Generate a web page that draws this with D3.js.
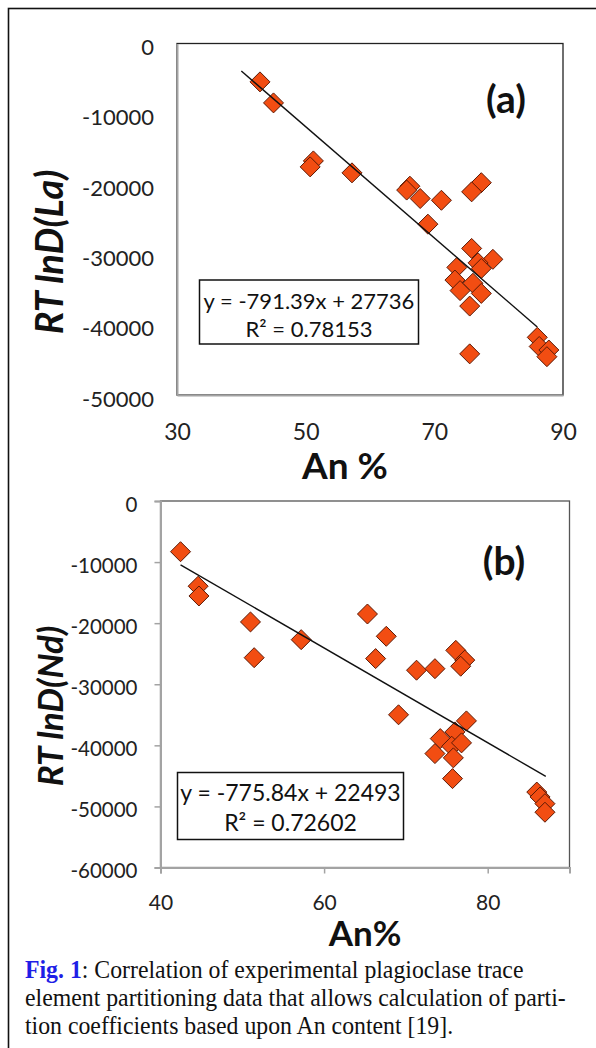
<!DOCTYPE html>
<html>
<head>
<meta charset="utf-8">
<script src="https://cdn.jsdelivr.net/npm/d3@7"></script>
<style>
  html, body { margin: 0; padding: 0; background: #fff; }
  svg { display: block; }
  .tick text { font-family: Lato, "Open Sans", sans-serif; fill: #222; }
</style>
</head>
<body>
<div id="chart"></div>
<script>
// An% vs RT lnD for La (panel a) and Nd (panel b)

const anLa = [42.9, 45.0, 51.2, 50.7, 57.2, 66.2, 65.7, 67.8, 71.1, 77.3, 75.8, 69.0, 75.8, 79.1,
              76.8, 77.3, 73.5, 73.2, 74.0, 76.0, 77.3, 75.5, 75.5, 86.0, 86.3, 87.8, 87.5];
const rtLa = [-5460, -8450, -16700, -17550, -18400, -20300, -20850, -22050, -22300, -19800, -21100,
              -25700, -29150, -30700, -31200, -32000, -31850, -33650, -35150, -34100, -35550,
              -37350, -44150, -41800, -43100, -43600, -44550];

const anNd = [42.45, 44.6, 44.7, 51.0, 51.45, 57.2, 65.3, 67.6, 66.3, 71.3, 73.55, 76.1, 77.2, 76.7,
              69.1, 77.4, 76.0, 74.2, 75.6, 76.8, 73.55, 75.8, 75.7, 86.0, 86.4, 87.0, 87.0];
const rtNd = [-8300, -13950, -15550, -19800, -25650, -22700, -18500, -22150, -25800, -27700, -27450,
              -24450, -26050, -27050, -35000, -36000, -37800, -38900, -40150, -39600, -41350,
              -42050, -45450, -47650, -48450, -49550, -50950];

// trendlines: slope, intercept, x extent
const fitLa = { slope: -791.39, intercept: 27736, r2: "0.78153", from: 40, to: 86 };
const fitNd = { slope: -775.84, intercept: 22493, r2: "0.72602", from: 42.45, to: 87.1 };

const ticksXLa = [30, 50, 70, 90];
const ticksYLa = [0, -10000, -20000, -30000, -40000, -50000];
const ticksXNd = [40, 60, 80];
const ticksYNd = [0, -10000, -20000, -30000, -40000, -50000, -60000];

const W = 596, H = 1048;

const svg = d3.select("#chart").append("svg")
    .attr("width", W)
    .attr("height", H);

// outer frame, open on the right and bottom edges of the page
svg.append("rect")
    .attr("x", 8.5).attr("y", 8.5)
    .attr("width", W + 20).attr("height", H + 20)
    .attr("fill", "none")
    .attr("stroke", "#111")
    .attr("stroke-width", 1.6);

function fmtEq(f) {
    return "y = " + f.slope + "x + " + f.intercept;
}

// plain hyphen minus, like the spreadsheet labels
const fmtTick = d => String(d);

function drawPanel(opt) {
    const x = d3.scaleLinear().domain(opt.xDomain).range([opt.left, opt.right]);
    const y = d3.scaleLinear().domain(opt.yDomain).range([opt.bottom, opt.top]);
    const g = svg.append("g");

    // plot area
    g.append("rect")
        .attr("x", opt.left).attr("y", opt.top)
        .attr("width", opt.right - opt.left)
        .attr("height", opt.bottom - opt.top)
        .attr("fill", "#fff")
        .attr("stroke", opt.borderColor)
        .attr("stroke-width", 1.3);

    // axes
    const yAxis = g.append("g")
        .attr("transform", `translate(${opt.left},0)`)
        .call(d3.axisLeft(y).tickValues(opt.yTicks).tickSize(opt.tickLen)
            .tickPadding(opt.yPad).tickFormat(fmtTick));
    yAxis.selectAll("text").style("font-size", opt.yFont + "px").attr("dy", opt.yDy);

    const xAxis = g.append("g")
        .attr("transform", `translate(0,${opt.bottom})`)
        .call(d3.axisBottom(x).tickValues(opt.xTicks).tickSize(opt.tickLen)
            .tickPadding(opt.xPad).tickFormat(fmtTick));
    xAxis.selectAll("text").style("font-size", opt.xFont + "px");

    [yAxis, xAxis].forEach(a => {
        a.select(".domain").attr("stroke", "#a3a3a3").attr("stroke-width", 2);
        a.selectAll(".tick line").attr("stroke", "#a3a3a3").attr("stroke-width", 1.5);
    });

    // markers
    const pts = opt.xs.map((v, i) => ({ x: v, y: opt.ys[i] }));
    const r = 10;
    g.selectAll("path.pt")
        .data(pts)
        .join("path")
        .attr("class", "pt")
        .attr("d", `M0,${-r}L${r},0L0,${r}L${-r},0Z`)
        .attr("transform", d => `translate(${x(d.x)},${y(d.y)})`)
        .attr("fill", "#f24d12")
        .attr("stroke", "#5c1a06")
        .attr("stroke-width", 1);

    // linear fit
    const f = opt.fit;
    const line = d3.line().x(d => x(d)).y(d => y(f.slope * d + f.intercept));
    g.append("path")
        .attr("d", line([f.from, f.to]))
        .attr("stroke", "#111")
        .attr("stroke-width", 1.4)
        .attr("fill", "none");

    // equation box
    const b = opt.eqBox;
    g.append("rect")
        .attr("x", b.x).attr("y", b.y).attr("width", b.w).attr("height", b.h)
        .attr("fill", "#fff").attr("stroke", "#111").attr("stroke-width", 1.5);
    const eq = g.append("text")
        .attr("text-anchor", "middle")
        .style("font-family", "Lato, 'Open Sans', sans-serif")
        .style("font-size", b.font + "px")
        .attr("fill", "#111");
    eq.append("tspan").attr("x", b.x + b.w / 2).attr("y", b.line1).text(fmtEq(f));
    eq.append("tspan").attr("x", b.x + b.w / 2).attr("y", b.line2).text("R² = " + f.r2);

    // panel letter
    g.append("text")
        .attr("x", opt.letter.x).attr("y", opt.letter.y)
        .attr("text-anchor", "middle")
        .style("font-family", "Lato, 'Open Sans', sans-serif")
        .style("font-weight", "bold")
        .style("font-size", "39px")
        .attr("fill", "#111")
        .text(opt.letter.text);

    // axis titles
    g.append("text")
        .attr("x", opt.xTitle.x).attr("y", opt.xTitle.y)
        .attr("text-anchor", "middle")
        .style("font-family", "Lato, 'Open Sans', sans-serif")
        .style("font-weight", "bold")
        .style("font-size", opt.xTitle.font + "px")
        .attr("fill", "#111")
        .text(opt.xTitle.text);

    g.append("text")
        .attr("transform", `translate(${opt.yTitle.x},${opt.yTitle.y}) rotate(-90)`)
        .attr("text-anchor", "middle")
        .style("font-family", "Lato, 'Open Sans', sans-serif")
        .style("font-weight", "bold")
        .style("font-style", "italic")
        .style("font-size", opt.yTitle.font + "px")
        .attr("fill", "#111")
        .text(opt.yTitle.text);
}

drawPanel({
    xs: anLa, ys: rtLa, fit: fitLa,
    xDomain: [30, 90], yDomain: [-50000, 0],
    xTicks: ticksXLa, yTicks: ticksYLa,
    left: 177, right: 563, top: 43.5, bottom: 395,
    borderColor: "#222", tickLen: 0,
    yPad: 23, yDy: "0.5em", yFont: 22,
    xPad: 29, xFont: 23,
    eqBox: { x: 199.5, y: 280, w: 219, h: 64, font: 22, line1: 308.5, line2: 336.5 },
    letter: { x: 506, y: 113, text: "(a)" },
    xTitle: { x: 345, y: 479, text: "An %", font: 37 },
    yTitle: { x: 63, y: 252, text: "RT lnD(La)", font: 38 }
});

drawPanel({
    xs: anNd, ys: rtNd, fit: fitNd,
    xDomain: [40, 90], yDomain: [-60000, 0],
    xTicks: ticksXNd, yTicks: ticksYNd,
    left: 160.5, right: 569.5, top: 501, bottom: 867.5,
    borderColor: "#555", tickLen: 6,
    yPad: 17, yDy: "0.5em", yFont: 20.5,
    xPad: 22, xFont: 21,
    eqBox: { x: 177.5, y: 772.5, w: 226, h: 67, font: 23, line1: 801, line2: 831 },
    letter: { x: 504, y: 575, text: "(b)" },
    xTitle: { x: 365, y: 946, text: "An%", font: 35 },
    yTitle: { x: 63, y: 706, text: "RT lnD(Nd)", font: 35 }
});

// caption (slightly condensed serif, as in the scan)
const capScale = 0.915;
const capLines = [
    [{ t: "Fig. 1", bold: true }, { t: ": Correlation of experimental plagioclase trace" }],
    [{ t: "element partitioning data that allows calculation of parti-" }],
    [{ t: "tion coefficients based upon An content [19]." }]
];
const cap = svg.append("text")
    .attr("transform", `scale(${capScale},1)`)
    .style("font-family", "'Liberation Serif', 'Times New Roman', serif")
    .style("font-size", "26px")
    .attr("fill", "#111");
capLines.forEach((parts, i) => {
    parts.forEach((p, j) => {
        const ts = cap.append("tspan").text(p.t);
        if (j === 0) ts.attr("x", 25 / capScale).attr("y", 978 + i * 28.2);
        if (p.bold) ts.style("font-weight", "bold").attr("fill", "#1f1fe6");
    });
});
</script>
</body>
</html>
